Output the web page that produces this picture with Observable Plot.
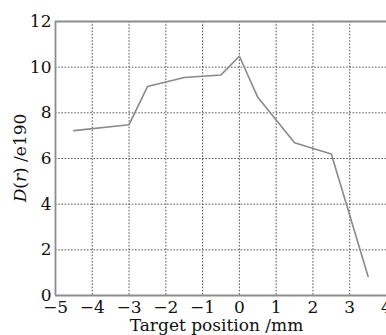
<!DOCTYPE html>
<html>
<head>
<meta charset="utf-8">
<script src="https://cdn.jsdelivr.net/npm/d3@7"></script>
<script src="https://cdn.jsdelivr.net/npm/@observablehq/plot@0.6"></script>
<style>
  html, body { margin: 0; padding: 0; background: #fff; }
  #chart { width: 386px; height: 335px; overflow: hidden; }
</style>
</head>
<body>
<div id="chart"></div>
<script>
// Data
const positions = [-4.5, -3, -2.5, -1.5, -0.5, 0, 0.5, 1.5, 2.5, 3.5];
const values    = [7.22, 7.48, 9.15, 9.55, 9.66, 10.48, 8.68, 6.69, 6.2, 0.83];
const xTicks = [-5, -4, -3, -2, -1, 0, 1, 2, 3, 4];
const yTicks = [0, 2, 4, 6, 8, 10, 12];
const xGrid = [-4, -3, -2, -1, 0, 1, 2, 3];
const yGrid = [2, 4, 6, 8, 10];
const xLabel = "Target position /mm";

const data = positions.map((x, i) => ({x, y: values[i]}));

const plot = Plot.plot({
  width: 386,
  height: 335,
  marginLeft: 55,
  marginRight: 0,
  marginTop: 21,
  marginBottom: 40,
  style: {fontFamily: "DejaVu Serif", fontSize: "17px", background: "white", color: "#111"},
  x: {domain: [-5, 4]},
  y: {domain: [0, 12]},
  marks: [
    Plot.ruleX(xGrid, {stroke: "#555", strokeWidth: 1, strokeDasharray: "1.6,1.6"}),
    Plot.ruleY(yGrid, {stroke: "#555", strokeWidth: 1, strokeDasharray: "1.6,1.6"}),
    Plot.ruleX([-5], {stroke: "#8c8c8c", strokeWidth: 1.8}),
    Plot.ruleY([0, 12], {stroke: "#8c8c8c", strokeWidth: 1.8}),
    Plot.axisX(xTicks, {tickSize: 0, tickPadding: 5, label: null, fontSize: 17}),
    Plot.axisY(yTicks, {tickSize: 0, tickPadding: 4, label: null, fontSize: 17}),
    Plot.line(data, {x: "x", y: "y", stroke: "#8a8a8a", strokeWidth: 1.6})
  ]
});

document.getElementById("chart").appendChild(plot);

// Axis titles (with italic parts in the y title)
const sx = plot.scale("x"), sy = plot.scale("y");
const svg = d3.select(plot);
svg.append("text")
  .attr("x", (sx.apply(-5) + sx.apply(4)) / 2 - 4)
  .attr("y", 331)
  .attr("text-anchor", "middle")
  .attr("font-family", "DejaVu Serif")
  .attr("font-size", 17)
  .attr("fill", "#111")
  .text(xLabel);

const yt = svg.append("text")
  .attr("transform", `translate(26,${(sy.apply(0) + sy.apply(12)) / 2}) rotate(-90)`)
  .attr("text-anchor", "middle")
  .attr("font-family", "DejaVu Serif")
  .attr("font-size", 17)
  .attr("fill", "#111");
yt.append("tspan").attr("font-style", "italic").text("D");
yt.append("tspan").text("(");
yt.append("tspan").attr("font-style", "italic").text("r");
yt.append("tspan").text(") /e190");
</script>
</body>
</html>
